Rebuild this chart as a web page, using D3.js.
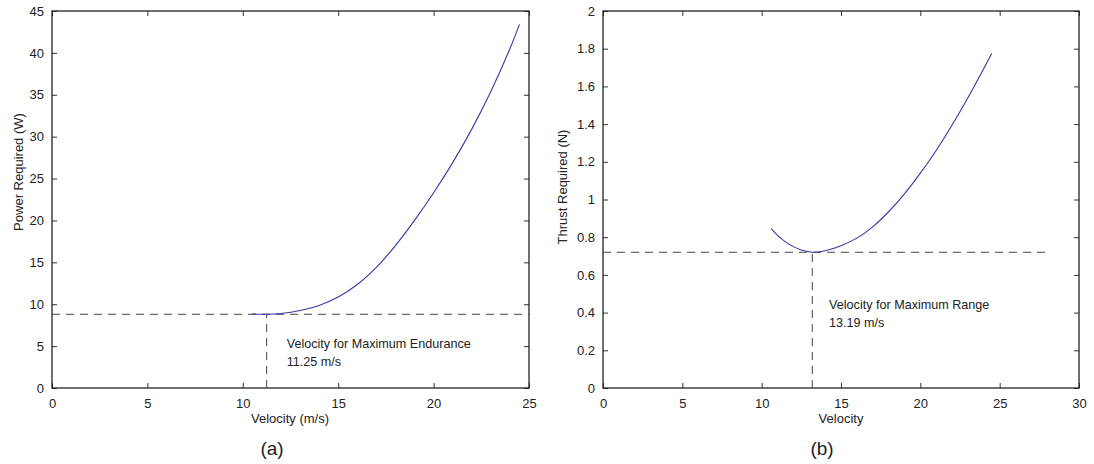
<!DOCTYPE html>
<html>
<head>
<meta charset="utf-8">
<script src="https://cdn.jsdelivr.net/npm/d3@7"></script>
<style>
  body { margin: 0; background: #fff; }
  svg text { font-family: "Liberation Sans", Arial, sans-serif; fill: #222; }
</style>
</head>
<body>
<div id="chart"></div>
<script>
// (a) power required vs velocity
var velA   = [10.5, 11, 11.25, 12, 13, 14, 15, 16, 17, 18, 19, 20, 21, 22, 23, 24, 24.5];
var powerA = [8.85, 8.8, 8.8, 8.9, 9.25, 9.85, 10.85, 12.35, 14.4, 17.0, 20.0, 23.3, 26.9, 30.9, 35.4, 40.5, 43.4];
var vEnd = 11.25, pMin = 8.8;

// (b) thrust required vs velocity
var velB    = [10.6, 11, 11.5, 12, 12.5, 13.19, 14, 15, 16, 17, 18, 19, 20, 21, 22, 23, 24, 24.5];
var thrustB = [0.845, 0.81, 0.775, 0.75, 0.732, 0.72, 0.728, 0.755, 0.795, 0.855, 0.935, 1.03, 1.14, 1.26, 1.395, 1.54, 1.695, 1.775];
var vRange = 13.19, tMin = 0.72;

var xTicksA = [0, 5, 10, 15, 20, 25];
var yTicksA = [0, 5, 10, 15, 20, 25, 30, 35, 40, 45];
var xTicksB = [0, 5, 10, 15, 20, 25, 30];
var yTicksB = [0, 0.2, 0.4, 0.6, 0.8, 1, 1.2, 1.4, 1.6, 1.8, 2];

var width = 1094, height = 464;
var svg = d3.select("#chart").append("svg")
  .attr("width", width).attr("height", height);

function panel(opt) {
  var x = d3.scaleLinear().domain(opt.xdom).range([opt.left, opt.right]);
  var y = d3.scaleLinear().domain(opt.ydom).range([388, 11]);
  var g = svg.append("g");

  // 軸 (MATLAB風：内向きの目盛り)
  g.append("g").attr("transform", "translate(0,388)")
    .call(d3.axisBottom(x).tickValues(opt.xticks).tickSizeInner(-5).tickSizeOuter(0).tickPadding(8).tickFormat(d3.format("")))
    .call(function(s){ s.select(".domain").remove(); s.selectAll("text").style("font-size","13px").attr("dy","0.9em"); });
  g.append("g").attr("transform", "translate(0,11)")
    .call(d3.axisTop(x).tickValues(opt.xticks).tickSizeInner(-5).tickSizeOuter(0).tickFormat(""))
    .call(function(s){ s.select(".domain").remove(); });
  g.append("g").attr("transform", "translate(" + opt.left + ",0)")
    .call(d3.axisLeft(y).tickValues(opt.yticks).tickSizeInner(-5).tickSizeOuter(0).tickPadding(8).tickFormat(d3.format("")))
    .call(function(s){ s.select(".domain").remove(); s.selectAll("text").style("font-size","13px"); });
  g.append("g").attr("transform", "translate(" + opt.right + ",0)")
    .call(d3.axisRight(y).tickValues(opt.yticks).tickSizeInner(-5).tickSizeOuter(0).tickFormat(""))
    .call(function(s){ s.select(".domain").remove(); });
  g.selectAll(".tick line").attr("stroke", "#333");

  g.append("rect")
    .attr("x", opt.left).attr("y", 11)
    .attr("width", opt.right - opt.left).attr("height", 377)
    .attr("fill", "none").attr("stroke", "#222").attr("stroke-width", 1.3);

  // 破線
  g.append("line")
    .attr("x1", x(0)).attr("x2", x(opt.hEnd))
    .attr("y1", y(opt.ymin)).attr("y2", y(opt.ymin))
    .attr("stroke", "#444").attr("stroke-dasharray", "8,6");
  g.append("line")
    .attr("x1", x(opt.vx)).attr("x2", x(opt.vx))
    .attr("y1", y(0)).attr("y2", y(opt.ymin))
    .attr("stroke", "#444").attr("stroke-dasharray", "8,6");

  // 曲線
  var line = d3.line()
    .x(function(d, i){ return x(opt.xs[i]); })
    .y(function(d){ return y(d); })
    .curve(d3.curveCatmullRom.alpha(0.5));
  g.append("path").datum(opt.ys)
    .attr("d", line)
    .attr("fill", "none").attr("stroke", "#3838a8").attr("stroke-width", 1.1);

  // 注記
  var t = g.append("text").attr("x", x(opt.note[0])).attr("y", y(opt.note[1]))
    .style("font-size", "12.6px");
  t.append("tspan").text(opt.noteText[0]);
  t.append("tspan").attr("x", x(opt.note[0])).attr("dy", 18).text(opt.noteText[1]);

  // 軸のラベル
  g.append("text").text(opt.xlabel)
    .attr("x", opt.xlabelX).attr("y", 423)
    .attr("text-anchor", "middle").style("font-size", "13px");
  g.append("text").text(opt.ylabel)
    .attr("transform", "translate(" + opt.ylabelX + "," + opt.ylabelY + ") rotate(-90)")
    .attr("text-anchor", "middle").style("font-size", "13px");
  g.append("text").text(opt.tag)
    .attr("x", opt.tagX).attr("y", 455)
    .attr("text-anchor", "middle").style("font-size", "19px");
}

panel({
  left: 52, right: 529, xdom: [0, 25], ydom: [0, 45],
  xticks: xTicksA, yticks: yTicksA,
  xs: velA, ys: powerA, vx: vEnd, ymin: pMin, hEnd: 25,
  note: [12.3, 4.8], noteText: ["Velocity for Maximum Endurance", vEnd + " m/s"],
  xlabel: "Velocity (m/s)", xlabelX: 290,
  ylabel: "Power Required (W)", ylabelX: 23, ylabelY: 172,
  tag: "(a)", tagX: 272
});

panel({
  left: 603, right: 1079, xdom: [0, 30], ydom: [0, 2],
  xticks: xTicksB, yticks: yTicksB,
  xs: velB, ys: thrustB, vx: vRange, ymin: tMin, hEnd: 28,
  note: [14.25, 0.42], noteText: ["Velocity for Maximum Range", vRange + " m/s"],
  xlabel: "Velocity", xlabelX: 841,
  ylabel: "Thrust Required (N)", ylabelX: 567, ylabelY: 187,
  tag: "(b)", tagX: 822
});
</script>
</body>
</html>
